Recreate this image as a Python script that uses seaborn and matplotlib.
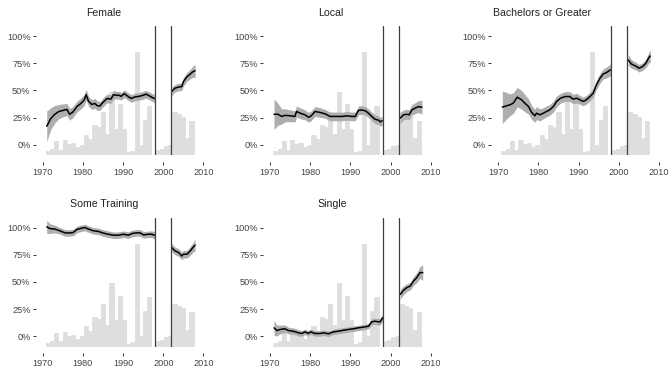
import matplotlib
matplotlib.use("Agg")
import matplotlib.pyplot as plt
import seaborn as sns
import pandas as pd
import numpy as np

# ---------------- data ----------------
bar_centers = [1971.3, 1972.4, 1973.4, 1974.5, 1975.5, 1976.6, 1977.6, 1978.7, 1979.7,
               1980.8, 1981.8, 1982.9, 1983.9, 1985.0, 1986.0, 1987.1, 1988.1, 1989.2,
               1990.2, 1991.3, 1992.3, 1993.4, 1994.4, 1995.5, 1996.5, 1997.6, 1998.6,
               1999.7, 2000.7, 2001.8, 2002.8, 2003.9, 2004.9, 2006.0, 2007.0]
bar_tops = [-6, -4, 3, -4.5, 4.3, 0.6, 1.3, -2.4, 0, 9.2, 5.2, 18, 16, 30, 10, 48.6, 14.8, 37,
            14.8, -6.8, -5.5, 85, 0, 23, 36, -10, -4.5, -3.5, -1, 0, 30, 28, 25.5, 6, 22]
bar_base = -10

fem_x1 = [1971, 1972, 1973, 1974, 1975, 1976, 1976.7, 1977.5, 1978.5, 1979.5, 1980.3, 1980.8,
          1981.4, 1982.2, 1983, 1983.5, 1984.2, 1985, 1986, 1987, 1987.6, 1988.3, 1989, 1989.5,
          1990.3, 1991, 1992, 1993, 1994, 1995, 1995.7, 1996.5, 1997.2, 1997.8]
fem_y1 = [17, 24, 28, 30.5, 31.5, 32.5, 28, 30, 35, 38, 41, 46, 40, 37, 38, 36, 35.5, 39, 42.5,
          42, 46, 45.5, 45.5, 44.5, 47, 45, 42.5, 44, 44.5, 45.5, 46.5, 45, 43.5, 42.5]
fem_se1 = [14, 10, 8, 6.5, 6, 5.5, 5.5, 5, 5, 5, 5, 5, 4.5, 4.5, 4.5, 4.5, 4, 4, 4, 4, 4, 3.5,
           3.5, 3.5, 3.5, 3.5, 3.5, 3.5, 3.5, 3.5, 3.5, 3.5, 3.5, 4]
fem_x2 = [2002.1, 2002.9, 2003.8, 2004.6, 2005.0, 2005.9, 2006.7, 2007.3, 2007.9]
fem_y2 = [49, 52, 53, 53.5, 58, 62.5, 65, 67, 68]
fem_se2 = [4, 3.5, 3.5, 3.5, 4, 4, 4.5, 5, 6]

loc_x1 = [1971, 1972, 1972.9, 1973.7, 1975, 1976.2, 1976.6, 1977.5, 1978.7, 1979.5, 1980.1,
          1981.2, 1982.4, 1983.7, 1984.9, 1986.5, 1988, 1989.1, 1990.3, 1991.2, 1992, 1992.8,
          1993.7, 1994.5, 1995.3, 1996.1, 1997, 1997.5, 1997.9]
loc_y1 = [28, 28, 26, 27, 26.6, 26, 30.6, 29, 27.5, 25.4, 26, 30.6, 29.7, 28.4, 26, 26, 26,
          26.6, 26, 26, 31.5, 32, 31.2, 29, 26, 23.5, 22.5, 21, 22]
loc_se1 = [14, 10, 7, 6, 5.5, 5, 5, 5, 4.5, 4.5, 4.5, 4.5, 4.5, 4, 4, 4, 4, 4, 4, 4, 4, 4, 4,
           4, 4, 4, 4, 4, 4.5]
loc_x2 = [2002.4, 2003.2, 2004, 2004.6, 2005.3, 2006.1, 2006.9, 2007.8]
loc_y2 = [24.5, 27.5, 28, 27.5, 32, 33.6, 35, 34.5]
loc_se2 = [5, 4.5, 4.5, 4.5, 5, 5, 5.5, 6.5]

bac_x1 = [1971, 1972.1, 1972.9, 1973.7, 1974.7, 1975.8, 1976.6, 1977.5, 1978.3, 1979.1, 1979.5,
          1980.4, 1981.2, 1982, 1982.8, 1983.7, 1984.5, 1985.5, 1986.6, 1987.8, 1988.6, 1989.5,
          1990.3, 1991.1, 1991.9, 1992.8, 1993.6, 1994.4, 1995.3, 1996.1, 1996.9, 1997.9]
bac_y1 = [34.6, 35.8, 36.7, 38.2, 43.7, 41.3, 38.2, 35.2, 29.7, 26.6, 29, 27.5, 29, 30.6, 32,
          35.2, 39.8, 42.8, 44.3, 44.3, 41.9, 42.8, 41.3, 39.8, 41.3, 44.3, 47.4, 55, 61.2,
          65.1, 66.4, 68.8]
bac_se1 = [15, 12, 10, 9.5, 9, 8.5, 8, 7, 6.5, 6, 6, 5.5, 5, 5, 5, 5, 5, 4.5, 4.5, 4.5, 4.5,
           4.5, 4, 4, 4, 4, 4, 4, 4.5, 4.5, 5, 5.5]
bac_x2 = [2002.3, 2003.1, 2004.4, 2005, 2005.9, 2006.7, 2007.5, 2007.8]
bac_y2 = [78, 74.3, 71.9, 70.3, 71.9, 74.9, 80.4, 81.6]
bac_se2 = [5, 4, 3.5, 3.5, 3.5, 4, 5, 6]

st_x1 = [1971, 1971.8, 1973.1, 1974.3, 1975.6, 1976.8, 1977.6, 1978.5, 1979.7, 1980.5, 1981.4,
         1982.6, 1983.9, 1985.1, 1986.3, 1987.6, 1988.8, 1990.1, 1991.3, 1992.2, 1993.4,
         1994.2, 1995.1, 1996.3, 1997.1, 1997.8]
st_y1 = [100.6, 99, 98.5, 96.9, 95, 95, 95.4, 98.2, 99.4, 100, 98.5, 97, 96.3, 94.8, 93.8,
         92.9, 92.9, 93.8, 92.9, 94.5, 95.1, 95.1, 93.2, 93.8, 93.8, 92.9]
st_se1 = [6, 4.5, 3.5, 3, 3, 3, 3, 3, 3, 3, 3, 3, 3, 3, 3, 3, 3, 3, 3, 3, 3, 3, 3, 3, 3, 3.5]
st_x2 = [2002.1, 2002.9, 2003.8, 2004.6, 2005, 2005.9, 2006.7, 2007.5, 2007.9]
st_y2 = [81.5, 78.5, 77, 73.8, 75.4, 75.4, 78.5, 82.2, 83.7]
st_se2 = [4, 3.5, 3.5, 3.5, 3.5, 3.5, 4, 4.5, 5.5]

sg_x1 = [1971, 1971.7, 1972.5, 1973.7, 1974.6, 1975.8, 1977.1, 1977.9, 1978.7, 1979.5, 1980.1,
         1981.2, 1982.4, 1983.4, 1984.5, 1985.8, 1987, 1988.3, 1989.5, 1990.7, 1992, 1993.2,
         1994.5, 1995.3, 1996.1, 1997, 1997.4, 1998]
sg_y1 = [7.7, 5.2, 6.2, 6.8, 5.2, 4.6, 3.1, 2.5, 4, 2.5, 4, 2.5, 2.5, 3.1, 2.2, 4, 4.6, 5.5,
         6.2, 6.8, 7.7, 8.3, 9.2, 13.2, 13.8, 13.2, 13.2, 16.9]
sg_se1 = [7, 5, 4, 3.5, 3, 3, 3, 2.5, 2.5, 2.5, 2.5, 2.5, 2.5, 2.5, 2.5, 2.5, 2.5, 2.5, 2.5,
          2.5, 2.5, 2.5, 2.5, 3, 3, 3, 3, 3.5]
sg_x2 = [2002.4, 2003.2, 2004, 2004.9, 2005.7, 2006.5, 2007.3, 2008]
sg_y2 = [38.5, 42.2, 44.6, 46.2, 50.8, 53.8, 58.5, 58.5]
sg_se2 = [4.5, 4, 3.5, 3.5, 4, 4.5, 5.5, 7]

titles = ["Female", "Local", "Bachelors or Greater", "Some Training", "Single"]
x_ticks = [1970, 1980, 1990, 2000, 2010]
y_ticks = [0, 25, 50, 75, 100]
y_tick_labels = ["0%", "25%", "50%", "75%", "100%"]
break_years = [1998, 2002]

series = [
    (fem_x1, fem_y1, fem_se1, fem_x2, fem_y2, fem_se2),
    (loc_x1, loc_y1, loc_se1, loc_x2, loc_y2, loc_se2),
    (bac_x1, bac_y1, bac_se1, bac_x2, bac_y2, bac_se2),
    (st_x1, st_y1, st_se1, st_x2, st_y2, st_se2),
    (sg_x1, sg_y1, sg_se1, sg_x2, sg_y2, sg_se2),
]

# ---------------- style ----------------
sns.set_theme(style="white")
plt.rcParams["font.family"] = ["Liberation Sans", "DejaVu Sans"]

W, H = 670, 368
fig = plt.figure(figsize=(W / 100, H / 100), dpi=100)

x1970_px = [42.7, 270.0, 498.3]
px_per_year = 4.02
xlim = (1969.0, 2010.5)
ylim = (-9.5, 109)
px_per_pct = 1.087
row_y100 = [36.0, 227.5]
title_pos = [(104, 13.3), (331, 13.3), (542, 13.3), (104, 204.0), (332.5, 204.0)]

for i, (title, (xa, ya, sa, xb, yb, sb)) in enumerate(zip(titles, series)):
    r, c = divmod(i, 3)
    left_px = x1970_px[c] - (1970 - xlim[0]) * px_per_year
    width_px = (xlim[1] - xlim[0]) * px_per_year
    top_px = row_y100[r] - (ylim[1] - 100) * px_per_pct
    height_px = (ylim[1] - ylim[0]) * px_per_pct
    bottom_px = top_px + height_px
    ax = fig.add_axes([left_px / W, (H - bottom_px) / H, width_px / W, height_px / H])

    # histogram-like background bars
    heights = [t - bar_base for t in bar_tops]
    ax.bar(bar_centers, heights, bottom=bar_base, width=1.05, color="#DEDEDE",
           edgecolor="#DEDEDE", linewidth=0.6, zorder=1)

    for xs, ys, ss in ((xa, ya, sa), (xb, yb, sb)):
        xs_ = np.array(xs); ys_ = np.array(ys); ss_ = np.array(ss)
        ax.fill_between(xs_, ys_ - ss_, ys_ + ss_, color="#AEAEAE", linewidth=0, zorder=2)
        df = pd.DataFrame({"year": xs, "val": ys})
        sns.lineplot(data=df, x="year", y="val", ax=ax, color="black", linewidth=1.1,
                     zorder=3)

    for b in break_years:
        ax.axvline(b, color="#3f3f3f", linewidth=0.9, zorder=4)

    ax.set_xlim(*xlim)
    ax.set_ylim(*ylim)
    ax.set_xticks(x_ticks)
    ax.set_xticklabels([str(t) for t in x_ticks])
    ax.set_yticks(y_ticks)
    ax.set_yticklabels(y_tick_labels)
    ax.set_xlabel("")
    ax.set_ylabel("")
    for s in ax.spines.values():
        s.set_visible(False)
    ax.spines["left"].set_position(("outward", 2.2))
    ax.spines["bottom"].set_position(("outward", 5.0))
    ax.tick_params(axis="both", which="major", bottom=True, left=True, direction="out",
                   length=2.2, width=0.7, color="#333333", labelsize=6.6,
                   labelcolor="#444444")
    ax.tick_params(axis="y", pad=1.4)
    ax.tick_params(axis="x", pad=1.8)
    ax.grid(False)
    ax.set_facecolor("none")

    tx, ty = title_pos[i]
    fig.text(tx / W, 1 - ty / H, title, ha="center", va="center", fontsize=7.6,
             color="#222222")

fig.savefig("out.png", dpi=100)
